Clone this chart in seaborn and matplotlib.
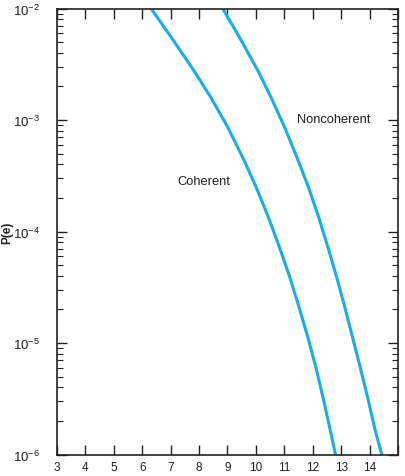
import numpy as np
import pandas as pd
import matplotlib
matplotlib.use("Agg")
import matplotlib.pyplot as plt
import seaborn as sns
from matplotlib.ticker import LogLocator, FixedLocator, NullFormatter

# Data (x: SNR in dB, y: log10 P(e))
coh_x = [6.31, 7.02, 7.82, 8.41, 9.01, 9.59, 10.01, 10.44, 10.87, 11.19, 11.52, 11.86, 12.11, 12.36, 12.62, 12.80]
coh_logp = [-2.0, -2.258, -2.558, -2.796, -3.065, -3.365, -3.604, -3.873, -4.172, -4.408, -4.680, -4.979, -5.218, -5.487, -5.787, -6.0]
nc_x = [8.83, 9.42, 10.07, 10.53, 11.01, 11.49, 11.85, 12.21, 12.57, 12.84, 13.13, 13.43, 13.67, 13.93, 14.2, 14.43]
nc_logp = [-2.0, -2.258, -2.558, -2.796, -3.065, -3.365, -3.604, -3.873, -4.172, -4.408, -4.680, -4.979, -5.218, -5.487, -5.787, -6.0]
x_ticks = [3, 4, 5, 6, 7, 8, 9, 10, 11, 12, 13, 14]
labels = ["Coherent", "Noncoherent"]

df = pd.concat([
    pd.DataFrame({"x": coh_x, "p": 10.0 ** np.array(coh_logp), "curve": labels[0]}),
    pd.DataFrame({"x": nc_x, "p": 10.0 ** np.array(nc_logp), "curve": labels[1]}),
])

sns.set_style("ticks")
plt.rcParams['font.family'] = ['Liberation Sans', 'DejaVu Sans']
plt.rcParams['mathtext.fontset'] = 'custom'
plt.rcParams['mathtext.rm'] = 'Liberation Sans'
plt.rcParams['mathtext.it'] = 'Liberation Sans:italic'
plt.rcParams['mathtext.bf'] = 'Liberation Sans:bold'

fig = plt.figure(figsize=(4.05, 4.77), dpi=100)
ax = fig.add_axes([57/405, 1-455.5/477, (398-57)/405, (455.5-9.5)/477])

line_color = "#1aaee6"
sns.lineplot(data=df, x="x", y="p", hue="curve", palette=[line_color, line_color],
             linewidth=2.2, legend=False, ax=ax, sort=False)

ax.set_yscale("log")
ax.set_xlim(3, 15)
ax.set_ylim(1e-6, 1e-2)
ax.xaxis.set_major_locator(FixedLocator(x_ticks + [15]))
ax.set_xticklabels([str(t) for t in x_ticks] + [""])
ax.yaxis.set_major_locator(LogLocator(base=10, numticks=10))
ax.yaxis.set_minor_locator(LogLocator(base=10, subs=np.arange(2, 10), numticks=20))
ax.yaxis.set_minor_formatter(NullFormatter())

ax.tick_params(axis="both", which="major", direction="in", length=7, width=1.0,
               top=True, right=True, labelsize=8.5, colors="#222222", pad=5)
ax.tick_params(axis="y", which="minor", direction="in", length=4.5, width=0.8,
               left=True, right=True)
ax.tick_params(axis="y", which="major", labelsize=9.5, pad=12)
for s in ax.spines.values():
    s.set_linewidth(1.2)
    s.set_color("#222222")

ax.set_xlabel("")
ax.set_ylabel("P(e)", fontsize=8.5, fontweight="bold", color="#222222")
ax.yaxis.set_label_coords(-0.128, 0.5)

ax.text(8.18, 10**-3.55, labels[0], fontsize=9.3, ha="center", va="center", color="#222222")
ax.text(12.75, 10**-2.987, labels[1], fontsize=9.3, ha="center", va="center", color="#222222")

fig.savefig("out.png", dpi=100)
